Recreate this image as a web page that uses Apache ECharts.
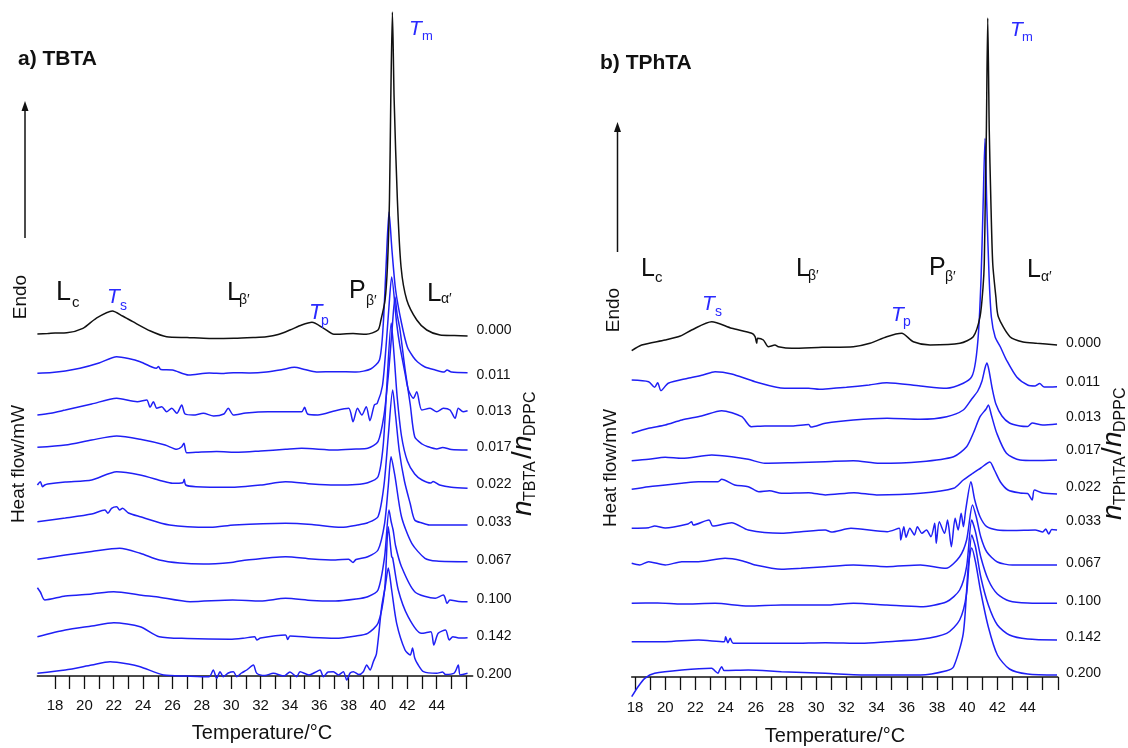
<!DOCTYPE html>
<html><head><meta charset="utf-8">
<script src="https://cdn.jsdelivr.net/npm/echarts@6/dist/echarts.min.js"></script>
<style>html,body{margin:0;padding:0;background:#fff}#c{width:1128px;height:748px}</style>
</head><body><div id="c"></div>
<script>
// ---------- data ----------
const tempTicks = [18,19,20,21,22,23,24,25,26,27,28,29,30,31,32,33,34,35,36,37,38,39,40,41,42,43,44,45,46];
const tempLabels = [18,20,22,24,26,28,30,32,34,36,38,40,42,44];
const ratios = ['0.000','0.011','0.013','0.017','0.022','0.033','0.067','0.100','0.142','0.200'];

// a) TBTA  [temperature °C, heat flow (arb. units, stacked)]
const tbta_000 = [[16.8,342],[17.5,342.5],[18.0,343],[18.8,343.3],[19.9,347.7],[20.8,357.7],[21.9,365],[22.6,360],[23.3,354.3],[24.5,345],[25.6,339.3],[27,338.5],[28.5,337.5],[30.2,337.7],[31.5,338.5],[32.4,339.3],[33.2,341.5],[34,346],[34.8,351],[35.5,353.7],[36.3,347.7],[37,341.7],[38.3,342.5],[39.2,341.7],[40.0,346],[40.2,356],[40.48,376],[40.64,409],[40.78,476],[40.87,576],[40.98,664],[41.1,576],[41.32,476],[41.57,409],[41.96,376],[42.64,356],[43.32,346],[44.23,341],[45.2,340.5],[46.1,340]];
const tbta_011 = [[16.8,302.7],[17.8,303.5],[18.7,305],[19.7,307.7],[21,313],[22.2,319.3],[23,317.5],[23.8,314.3],[24.6,309],[24.9,307.7],[25.05,309.5],[25.2,306.5],[26,306],[27.1,301],[28.5,303],[29.5,302.5],[30.15,303.3],[31.3,303],[32.4,304],[33.5,306.5],[34.3,308.7],[35,306.5],[35.8,304],[37.1,304.3],[38.5,304],[39.5,307],[40.1,316],[40.35,350],[40.55,410],[40.75,464],[40.95,426],[41.2,386],[41.6,353],[42.0,329],[42.4,319],[42.7,314],[43.2,309],[43.9,306],[44.5,304],[44.7,306],[45,304],[46.1,303.3]];
const tbta_013 = [[16.8,261],[17.7,262.7],[18.7,266],[20.5,272],[22.2,277.7],[23.6,274.3],[24.25,276],[24.47,268.7],[24.7,274.3],[24.93,267.7],[25.27,269.3],[25.6,264.3],[25.95,267.7],[26.3,262.7],[26.63,271],[26.86,262],[27.42,261],[28.1,262.7],[28.8,260],[29.5,262],[29.8,267.7],[30.15,261],[31,263],[32.5,264.3],[34.8,264.3],[35.0,268.7],[35.2,262],[35.9,261],[37.1,265.3],[38.0,267.7],[38.3,254.3],[38.6,267.7],[38.9,261],[39.2,269.3],[39.45,255.3],[39.75,271],[39.95,272.7],[40.3,290],[40.55,330],[40.75,370],[40.93,399],[41.27,352.7],[41.5,329.3],[41.84,302.7],[42.07,286],[42.41,277.7],[42.64,284.3],[42.98,266],[43.55,267.7],[44.0,264.3],[44.45,267.7],[44.9,266],[45.25,257.7],[45.47,267.7],[45.8,264.3],[46.1,265.3]];
const tbta_017 = [[16.8,228.7],[18.7,231],[20.5,236],[22.2,240],[23.8,236.7],[25.5,231],[26.3,226.7],[26.63,229.3],[26.78,232.7],[26.97,223.3],[27.6,223.7],[29,224.5],[30.5,223.7],[32,225],[33.7,226.7],[34.8,227.7],[37.1,226],[38.5,227],[39.3,227.7],[40.0,234.3],[40.4,260],[40.7,300],[40.95,345],[41.16,379],[41.3,362],[41.5,346],[41.85,306],[42.2,271],[42.5,239.3],[43.0,232],[43.4,229.3],[44.0,227],[44.4,228.5],[45,226.5],[46.1,226]];
const tbta_022 = [[16.8,191],[17.0,194.3],[17.15,189.3],[17.3,191],[17.5,192],[18.7,194],[20.5,196],[22.2,204.3],[23.8,201],[25.3,195],[26.0,192.7],[26.7,193.3],[26.8,196.7],[26.9,191],[27.6,189.3],[29.9,188.7],[32,191],[33.7,194.3],[35.5,192],[37.1,191],[38.5,191.5],[39.3,193.3],[40.0,199.3],[40.35,230],[40.6,290],[40.9,353],[41.1,320],[41.3,280],[41.6,240],[42.0,215],[42.5,202],[43.0,196],[43.6,193],[43.75,194.5],[44.2,191],[45,188.7],[46.1,187.7]];
const tbta_033 = [[16.8,154.3],[18.7,158],[20.5,162],[21.4,166],[21.6,162.7],[21.85,167.7],[22.2,169.3],[22.4,166],[22.6,167.7],[23.0,163],[23.8,159.3],[25.8,151],[28.6,148.7],[30.2,151],[33.7,152.7],[35.5,151.5],[37.5,148.7],[38.6,151],[39.3,153.3],[40.0,159.3],[40.4,190],[40.7,240],[41.0,286],[41.2,260],[41.45,225],[41.8,195],[42.2,172],[42.5,156],[43,153],[43.5,151],[46.1,151]];
const tbta_067 = [[16.8,116.7],[18.7,121],[20.5,124.5],[22.4,127.7],[23.8,122.7],[25.1,116],[26.5,113],[28.1,112],[30.0,113.5],[30.7,115.3],[33.7,119.3],[35.5,117],[37.1,116],[38.0,116.8],[38.3,113.5],[38.5,116.5],[39.3,119.3],[40.0,126],[40.45,152.7],[40.7,190],[40.89,219.3],[41.16,199.3],[41.6,159.3],[42.3,132.7],[43.2,117.7],[44,115],[46.1,114.3]];
const tbta_100 = [[16.8,88.3],[17.0,84],[17.3,76],[18.7,80],[20.5,82],[22.0,84.3],[24.0,80.5],[24.9,79.3],[27.2,74.3],[30.1,76],[32,75],[33.7,77.7],[35.5,75.5],[37.1,75],[38.5,77],[39.3,79.3],[40.0,86],[40.45,119.3],[40.75,166],[40.9,154],[41.03,146],[41.2,130],[41.6,109.3],[42.5,84.3],[43.9,77.7],[44.45,81],[44.55,79],[44.7,72.7],[44.9,76],[45.5,74.5],[46.1,74.3]];
const tbta_142 = [[16.8,39.3],[18.7,46],[20.5,50],[22.0,53.3],[23.8,49.3],[25.1,39.3],[27,37.5],[29.9,36.7],[30.8,37.7],[31.6,39.3],[31.75,36],[32,38],[33.7,41],[33.85,36.5],[34,40],[35.5,38.5],[37.1,37.7],[38.5,40],[39.3,42.7],[40.0,52.7],[40.45,86],[40.7,149.3],[40.93,119.3],[41.0,118],[41.38,86],[42.05,59.3],[42.95,42.7],[43.6,44.3],[43.8,31],[44.1,42.7],[44.6,46],[44.85,36],[45.1,39.3],[45.5,38],[46.1,38.3]];
const tbta_200 = [[16.8,2.7],[18.7,6],[20.5,11],[21.75,14.3],[23.0,12],[23.8,9.3],[25.4,1],[27,0],[28.5,-0.7],[28.78,6],[29.01,-2.3],[29.24,4.3],[29.46,-0.7],[29.8,3],[30.15,4.3],[30.38,-0.7],[30.7,3],[31.06,6],[31.51,11],[31.74,2.7],[32.3,0.5],[32.87,2.7],[33.6,0],[34.0,4],[34.46,-0.7],[34.69,4.3],[35.3,1],[35.7,3.5],[36.05,6],[36.28,-0.7],[36.6,4],[36.96,4.3],[37.3,1],[37.64,4.3],[37.87,-4],[38.1,3],[38.32,4.3],[38.7,1.5],[39.0,4.3],[39.23,11],[39.46,6],[39.68,14.3],[39.9,22.7],[40.25,69.3],[40.5,90],[40.7,108],[40.93,86],[41.27,52.7],[41.84,26],[42.2,21],[42.35,28],[42.5,18],[42.7,12],[43.1,4.3],[44.0,2.7],[44.4,4],[44.6,1.5],[45.2,3],[45.47,11],[45.6,1],[46.1,2.7]];

// b) TPhTA
const tphta_000 = [[17.78,326.3],[18.44,332],[19.99,337],[21.0,341],[21.75,347],[23.08,355.3],[24.4,348.7],[25.73,343.7],[25.95,340.3],[26.06,333.7],[26.12,338.7],[26.5,337],[26.83,330.3],[27.27,332],[27.49,330.3],[28.38,328.7],[30.4,329.7],[32.46,330.3],[33.56,333.7],[34.67,340.3],[35.66,343.7],[36.43,335.3],[37.54,332],[39.52,333.7],[40.4,340.3],[40.85,360.3],[41.05,390],[41.13,413.7],[41.2,480.3],[41.27,547],[41.36,659],[41.46,547],[41.56,480.3],[41.69,413.7],[41.9,380],[42.06,360.3],[42.83,340.3],[43.7,335],[44.6,333.7],[45.95,332]];
const tphta_011 = [[17.78,297],[18.9,295.3],[19.3,289.7],[19.5,294.3],[19.72,286.3],[20.2,293.7],[21.5,298.7],[22.5,302],[23.3,305.3],[24.4,303],[25.95,295.3],[27.9,288.7],[29.5,288.7],[30.2,287.7],[31.0,288.5],[32.0,289.7],[33.5,292],[34.67,294.3],[36.9,291],[38.64,288.7],[39.74,293.7],[40.3,300.3],[40.55,315],[40.75,345],[40.92,400],[41.05,470],[41.18,538.7],[41.3,470],[41.45,400],[41.6,360],[41.85,340],[42.2,330],[42.6,317],[43.28,300],[44.0,292],[44.5,291],[44.8,293.5],[45.1,290],[45.95,290.3]];
const tphta_013 = [[17.78,243.7],[18.9,248.7],[20.0,252],[21.1,257],[22.4,261],[23.74,266.3],[25.07,260.3],[25.7,250.3],[26.6,251],[28.4,251],[29.5,252.5],[29.65,250],[30.6,253.7],[32.46,257],[34.7,258.7],[36.9,257.7],[38.64,260.3],[39.74,267],[40.3,278],[40.7,286],[40.98,296],[41.18,309],[41.31,314],[41.45,306],[41.65,289],[41.9,273],[42.3,261],[42.8,254],[43.5,251],[44.0,250.5],[44.3,254],[45,252],[45.95,253]];
const tphta_017 = [[17.78,216.3],[18.9,217.7],[20.0,219.7],[21.1,218.7],[23.08,222],[24.4,220.3],[25.5,217.7],[26.6,213.7],[28.4,214.3],[30.6,215.3],[32.46,216.3],[34.2,213.7],[36.9,215.3],[39.1,220.3],[39.96,230.3],[40.4,243.7],[40.85,260.3],[41.25,268],[41.4,272],[41.6,262],[41.96,243.7],[42.6,223.7],[43.5,217],[44.5,216.5],[45.95,217]];
const tphta_022 = [[17.78,187.7],[18.9,190.3],[21.1,193.7],[22.2,195.3],[23.5,195.3],[23.74,197.7],[24.6,192],[25.5,190.3],[26.2,185.3],[26.9,186.3],[27.7,183.7],[29.5,184.3],[30.6,182],[32.5,184.3],[34.0,182],[36.9,183.7],[39.1,188.7],[39.74,197],[40.3,203],[40.9,209],[41.5,215],[41.8,207],[42.2,195],[42.7,187],[43.5,184],[44.0,183.5],[44.3,177],[44.45,187],[45,184],[45.95,183]];
const tphta_033 = [[17.78,148.7],[18.9,149.3],[19.3,151],[20,149],[21.5,153],[21.75,155.3],[21.85,152],[22.9,157],[23.15,151],[24.4,154.3],[25.5,147],[27.7,143.7],[29.0,145.3],[30.6,147],[31.0,145],[32.3,148.7],[34.7,145.3],[35.5,148.7],[35.6,137],[35.8,150.3],[35.95,139.7],[36.2,148.7],[36.5,142],[36.7,150.3],[37.0,143.7],[37.3,147],[37.6,140.3],[37.85,153.7],[37.95,133.7],[38.15,155.3],[38.5,143.7],[38.7,157],[38.95,130.3],[39.2,158.7],[39.4,147],[39.6,163.7],[39.75,150.3],[39.9,167],[40.25,195.3],[40.5,177],[40.85,160.3],[41.3,150.3],[42,147],[43,146.5],[44.5,147],[45.0,145],[45.2,148],[45.4,143],[45.6,147.5],[45.95,147]];
const tphta_067 = [[17.78,113.7],[18.3,112],[18.9,115.3],[20.0,112],[21.1,115.3],[22.2,115.3],[23.96,118.7],[25.07,116.3],[25.95,112],[27.7,107.7],[29.0,108.7],[30.6,110.3],[32.46,112],[34.67,110.3],[36.9,112],[38.6,108.7],[39.5,120.3],[39.96,137],[40.35,172],[40.6,160],[40.9,140],[41.3,125],[42.0,115],[43,112],[45.95,112]];
const tphta_100 = [[17.78,73.7],[19.5,74],[21.1,73],[23.3,73.7],[25.5,71],[27.7,72],[30.6,72],[32.46,73.7],[34.67,72],[36.9,70.3],[38.64,75.3],[39.5,87],[39.96,110.3],[40.3,157],[40.55,145],[40.9,120],[41.4,97],[42.0,83],[42.8,76],[44,74],[45.95,73.7]];
const tphta_142 = [[17.78,35.3],[20.0,35.3],[22.2,37],[23.9,35.3],[24.0,40.3],[24.15,34.3],[24.3,38.7],[24.5,33.7],[26.6,33.7],[28.4,33.7],[30.6,34.3],[33.0,33.7],[34.67,35.3],[36.9,37.7],[38.64,43.7],[39.5,57],[39.96,83.7],[40.3,142],[40.55,130],[40.9,100],[41.4,72],[42.0,52],[42.8,42],[44,38],[45.95,37]];
const tphta_200 = [[17.78,-19.7],[18.2,-9.7],[18.65,-1.3],[19.3,3.7],[21.1,7],[23.08,8.7],[23.3,6],[23.5,3.7],[23.6,7],[23.74,10.3],[23.9,6.5],[25.5,7],[27.7,5.3],[30.6,3.7],[33.5,2],[36.9,2],[38.64,6.3],[39.1,10.3],[39.74,43.7],[40.07,110.3],[40.3,129],[40.55,115],[40.9,85],[41.4,50],[42.0,22],[42.8,8],[44,3],[45.95,2]];

const curvesA = [tbta_000,tbta_011,tbta_013,tbta_017,tbta_022,tbta_033,tbta_067,tbta_100,tbta_142,tbta_200];
const curvesB = [tphta_000,tphta_011,tphta_013,tphta_017,tphta_022,tphta_033,tphta_067,tphta_100,tphta_142,tphta_200];

// ---------- styling ----------
const FONT = '"Liberation Sans", Arial, Helvetica, sans-serif';
const BLUE = '#1f1ff5', BLACK = '#111111', TBLUE = '#2a2aff';

function series(curves, idx, labelDy) {
  const out = [];
  for (let i = curves.length - 1; i >= 0; i--) {
    out.push({
      type: 'line', xAxisIndex: idx, yAxisIndex: idx, data: curves[i],
      symbol: 'none', showSymbol: false, clip: false, silent: true,
      smooth: 0.25,
      lineStyle: { color: i === 0 ? BLACK : BLUE, width: 1.5 },
      z: i === 0 ? 5 : 3,
      endLabel: { show: true, formatter: ratios[i], color: BLACK, fontSize: 14, fontFamily: FONT,
                  distance: 9, offset: [0, labelDy[i]] }
    });
  }
  return out;
}

function xAxis(idx, min, max, margin) {
  return {
    gridIndex: idx, type: 'value', min, max,
    axisLine: { show: true, onZero: true, lineStyle: { color: BLACK, width: 1.5 } },
    axisTick: { show: true, customValues: tempTicks, length: 13, inside: false, lineStyle: { color: BLACK, width: 1.3 } },
    minorTick: { show: false },
    axisLabel: { show: true, customValues: tempLabels, fontSize: 15, fontFamily: FONT, color: BLACK, margin },
    splitLine: { show: false }
  };
}

function txt(x, y, text, size, o) {
  return { type: 'text', x, y, silent: true, z: 100,
    style: Object.assign({ text, fontSize: size, fontFamily: FONT, fill: BLACK,
      align: 'left', verticalAlign: 'middle', textAlign: 'left', textVerticalAlign: 'middle' }, o || {}) };
}
function rot(x, y, text, size) {
  return { type: 'text', x, y, rotation: Math.PI / 2, silent: true, z: 100,
    style: { text, fontSize: size, fontFamily: FONT, fill: BLACK,
      align: 'center', verticalAlign: 'middle', textAlign: 'center', textVerticalAlign: 'middle' } };
}
function ratioTitle(x, y, subA) {
  const n = { fontStyle: 'italic' };
  const wA = subA === 'TBTA' ? 41 : 49;
  return { type: 'group', x, y, rotation: Math.PI / 2, silent: true, z: 100, children: [
    txt(0, 0, 'n', 28, n),
    txt(15, 8, subA, 16),
    txt(16 + wA, 0, '/', 28),
    txt(24 + wA, 0, 'n', 28, n),
    txt(39 + wA, 8, 'DPPC', 16)
  ]};
}
function arrow(x, y1, y2) {
  return [
    { type: 'line', silent: true, shape: { x1: x, y1: y1, x2: x, y2: y2 + 6 }, style: { stroke: BLACK, lineWidth: 1.5 } },
    { type: 'polygon', silent: true, shape: { points: [[x, y2], [x - 3.5, y2 + 10], [x + 3.5, y2 + 10]] }, style: { fill: BLACK } }
  ];
}
const it = { fontStyle: 'italic', fill: TBLUE };
const bl = { fill: TBLUE };

const graphics = [
  // panel a
  txt(18, 59, 'a) TBTA', 21, { fontWeight: 'bold' }),
  ...arrow(25, 238, 101),
  rot(21, 297, 'Endo', 19),
  rot(18.5, 464, 'Heat flow/mW', 19),
  txt(56, 293, 'L', 27), txt(72, 303, 'c', 15),
  txt(107, 297.5, 'T', 21, it), txt(120, 306, 's', 14, bl),
  txt(227, 292.5, 'L', 26), txt(239, 300, 'β′', 14),
  txt(309, 313, 'T', 22, it), txt(321, 321, 'p', 14, bl),
  txt(349, 291, 'P', 25), txt(366, 301, 'β′', 14),
  txt(427, 293.5, 'L', 26), txt(441, 299, 'α′', 14),
  txt(409, 29.5, 'T', 21, it), txt(422, 36, 'm', 13, bl),
  ratioTitle(523, 516, 'TBTA'),
  txt(262, 733, 'Temperature/°C', 20, { align: 'center', textAlign: 'center' }),
  // panel b
  txt(600, 63, 'b) TPhTA', 21, { fontWeight: 'bold' }),
  ...arrow(617.5, 252, 122),
  rot(614, 310, 'Endo', 19),
  rot(611, 468, 'Heat flow/mW', 19),
  txt(641, 269, 'L', 25), txt(655, 278, 'c', 15),
  txt(796, 269, 'L', 25), txt(808, 276, 'β′', 14),
  txt(929, 268, 'P', 25), txt(945, 277, 'β′', 14),
  txt(1027, 270, 'L', 25), txt(1041, 277, 'α′', 14),
  txt(702, 304.5, 'T', 21, it), txt(715, 312, 's', 14, bl),
  txt(891, 315.5, 'T', 21, it), txt(903, 322, 'p', 14, bl),
  txt(1010, 30, 'T', 21, it), txt(1022, 37, 'm', 13, bl),
  ratioTitle(1113, 520, 'TPhTA'),
  txt(835, 736, 'Temperature/°C', 20, { align: 'center', textAlign: 'center' })
];

const chart = echarts.init(document.getElementById('c'), null, { renderer: 'canvas' });
chart.setOption({
  animation: false,
  backgroundColor: '#ffffff',
  grid: [
    { left: 37.4, top: 0, width: 435.3, height: 696, containLabel: false },
    { left: 631.7, top: 0, width: 426.1, height: 697, containLabel: false }
  ],
  xAxis: [ xAxis(0, 16.8, 46.45, 2), xAxis(1, 17.78, 46.0, 3) ],
  yAxis: [
    { gridIndex: 0, type: 'value', min: -20, max: 676, show: false, splitLine: { show: false } },
    { gridIndex: 1, type: 'value', min: -20, max: 677, show: false, splitLine: { show: false } }
  ],
  series: [
    ...series(curvesA, 0, [-6, 2, 0, -3, -4, -3, -2, -3, -2, 1]),
    ...series(curvesB, 1, [-2, -5, -7, -10, -7, -9, -2, -2, -3, -2])
  ],
  graphic: graphics
});
</script>
</body></html>
